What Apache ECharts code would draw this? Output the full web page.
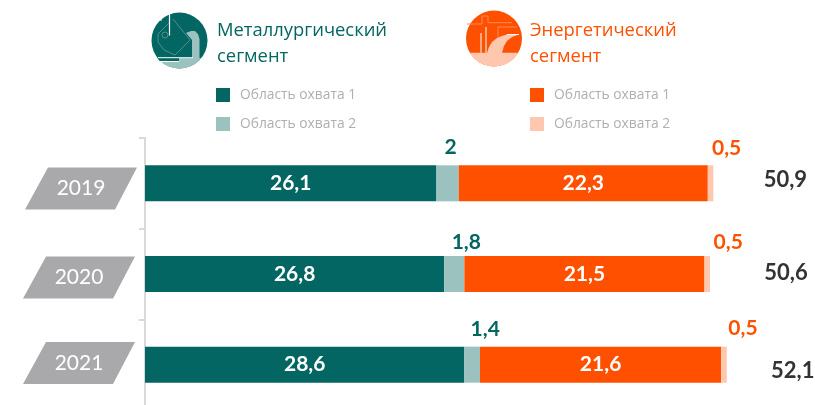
<!DOCTYPE html>
<html>
<head>
<meta charset="utf-8">
<style>html,body{margin:0;padding:0;background:#fff}</style>
<script src="https://cdn.jsdelivr.net/npm/echarts@6/dist/echarts.min.js"></script>
</head>
<body>
<div id="main" style="width:815px;height:405px;"></div>
<script>
var years = ['2019', '2020', '2021'];
var metal1 = [26.1, 26.8, 28.6];
var metal2 = [2, 1.8, 1.4];
var energy1 = [22.3, 21.5, 21.6];
var energy2 = [0.5, 0.5, 0.5];
var totals = [50.9, 50.6, 52.1];

var TEAL = '#046662', TEAL_L = '#9bc2bf', ORANGE = '#ff5000', ORANGE_L = '#ffc7ae';
var NUM_FONT = 'Lato, "Open Sans", sans-serif';
var TXT_FONT = '"Open Sans", "Noto Sans", sans-serif';

function comma(p) { return String(p.value instanceof Array ? p.value[0] : p.value).replace('.', ','); }

// the labels above the thin segments sit off-centre in the original
function offsetData(values, offsets) {
    return values.map(function (v, i) {
        return { value: v, label: { offset: offsets[i] } };
    });
}

function barSeries(name, values, color, label) {
    return {
        name: name,
        type: 'bar',
        stack: 'total',
        barWidth: 36,
        itemStyle: { color: color },
        label: label,
        data: values
    };
}

var insideLabel = { show: true, position: 'inside', color: '#fff', fontFamily: NUM_FONT, fontWeight: 'bold', fontSize: 21, formatter: comma };

function topLabel(color) {
    return { show: true, position: 'top', distance: 4, color: color, fontFamily: NUM_FONT, fontWeight: 'bold', fontSize: 21, formatter: comma };
}

function legendItem(x, y, color, text) {
    return [
        { type: 'rect', shape: { x: x, y: y, width: 14, height: 14 }, style: { fill: color } },
        { type: 'text', x: x + 24, y: y + 7, style: { text: text, fill: '#afafaf', font: '13.8px ' + TXT_FONT, textVerticalAlign: 'middle' } }
    ];
}

function heading(x, y, color, text) {
    return { type: 'text', x: x, y: y, style: { text: text, fill: color, font: '18.4px ' + TXT_FONT, lineHeight: 26 } };
}

function yearBox(x, y, text) {
    return {
        type: 'polygon',
        shape: { points: [[x + 23, y], [x + 112, y], [x + 90, y + 42], [x, y + 42]] },
        style: { fill: '#a9a9ac' },
        textContent: { style: { text: text, fill: '#fff', font: '21px ' + NUM_FONT } },
        textConfig: { position: 'inside' }
    };
}

function line(points, color, width) {
    return { type: 'polyline', shape: { points: points }, style: { stroke: color, lineWidth: width || 1, fill: null } };
}

// lower part of a circle, cut at chord height y
function lowerArc(cx, cy, r, y) {
    var pts = [];
    var a0 = Math.asin((y - cy) / r);
    for (var i = 0; i <= 24; i++) {
        var a = a0 + (Math.PI - 2 * a0) * i / 24;
        pts.push([cx + r * Math.cos(a), cy + r * Math.sin(a)]);
    }
    return pts;
}

var metalIcon = [
    { type: 'circle', shape: { cx: 179.5, cy: 40.5, r: 28 }, style: { fill: TEAL } },
    { type: 'polygon', shape: { points: lowerArc(179.5, 40.5, 28, 58) }, style: { fill: TEAL_L } },
    // dark strip left of the band
    { type: 'polygon', shape: { points: [[179, 57.5], [179, 61.5], [160, 61.5], [157, 57.5]] }, style: { fill: TEAL } },
    { type: 'polygon', shape: { points: [[186, 33], [191, 31], [195, 31], [198, 34], [199.5, 39], [199.5, 58], [192, 58], [192, 40]] }, style: { fill: TEAL_L } },
    line([[158, 57.7], [193, 57.7]], '#fff', 1),
    line([[160, 61.5], [179, 61.5]], '#fff', 1),
    line([[169.5, 14], [169.5, 35.5]], '#fff', 1.2),
    line([[161, 18], [161, 21]], '#fff', 1),
    line([[173, 19], [190, 40], [175, 55], [164, 50], [158, 42], [158, 34], [169, 23]], '#4d918d', 1),
    { type: 'circle', shape: { cx: 165, cy: 35, r: 3 }, style: { fill: null, stroke: '#4d918d', lineWidth: 1 } }
];

var energyIcon = [
    { type: 'circle', shape: { cx: 494, cy: 38.5, r: 28 }, style: { fill: ORANGE } },
    { type: 'polygon', shape: { points: lowerArc(494, 38.5, 28, 52.7) }, style: { fill: ORANGE_L } },
    { type: 'polygon', shape: { points: [[487, 53], [489, 47], [492, 42], [497, 38], [502, 36], [507, 34.5], [519, 34.5], [512, 37], [507, 41], [504, 46], [502, 53]] }, style: { fill: ORANGE_L } },
    line([[481, 33], [481, 52.7]], '#fff', 1),
    line([[486, 27], [486, 52.7]], '#fff', 1),
    line([[507, 34.5], [519, 34.5]], '#fff', 1),
    line([[467, 24], [482, 24], [482, 16], [488, 16], [488, 22.7], [512, 22.7]], '#ff8a58', 1),
    line([[498, 38], [498, 27], [517, 27]], '#ff8a58', 1)
];

var graphicEls = [].concat(
    metalIcon,
    energyIcon,
    heading(217, 18, TEAL, 'Металлургический\nсегмент'),
    heading(530, 18, ORANGE, 'Энергетический\nсегмент'),
    legendItem(216, 88, TEAL, 'Область охвата 1'),
    legendItem(216, 117, TEAL_L, 'Область охвата 2'),
    legendItem(530, 88, ORANGE, 'Область охвата 1'),
    legendItem(530, 117, ORANGE_L, 'Область охвата 2'),
    yearBox(25, 167.5, years[0]),
    yearBox(23, 256.5, years[1]),
    yearBox(23, 342, years[2])
);

var option = {
    animation: false,
    graphic: { elements: graphicEls },
    grid: { left: 145, right: 0, top: 138, height: 272, outerBoundsMode: 'none' },
    xAxis: { type: 'value', min: 0, max: 60, show: false },
    yAxis: {
        type: 'category',
        inverse: true,
        data: years,
        axisLabel: { show: false },
        axisLine: { lineStyle: { color: '#d9d9d9', width: 2 } },
        axisTick: { show: true, length: 6, lineStyle: { color: '#d9d9d9', width: 2 } }
    },
    series: [
        barSeries('metal1', metal1, TEAL, insideLabel),
        barSeries('metal2', offsetData(metal2, [[3, -3.5], [12, 0.5], [13, -3]]), TEAL_L, topLabel(TEAL)),
        barSeries('energy1', energy1, ORANGE, insideLabel),
        barSeries('energy2', offsetData(energy2, [[16, -2.5], [21, 1], [19, -3.5]]), ORANGE_L, topLabel(ORANGE)),
        {
            name: 'total',
            type: 'scatter',
            symbolSize: 0,
            itemStyle: { opacity: 1 },
            label: { show: true, position: 'inside', color: '#333', opacity: 1, fontFamily: NUM_FONT, fontWeight: 'bold', fontSize: 22, formatter: comma },
            data: totals.map(function (v, i) {
                return { value: [v, years[i]], label: { offset: [[72, -3], [76, -1], [66, 6]][i] } };
            })
        }
    ]
};

var chart = echarts.init(document.getElementById('main'), null, { renderer: 'canvas' });
chart.setOption(option);
</script>
</body>
</html>
